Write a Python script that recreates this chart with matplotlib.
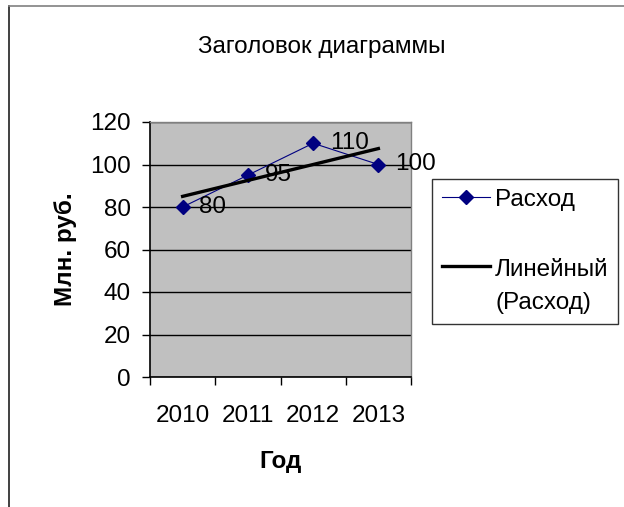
import numpy as np
import matplotlib
matplotlib.use('Agg')
import matplotlib.pyplot as plt
from matplotlib.lines import Line2D
from matplotlib.legend_handler import HandlerLine2D

years = ['2010', '2011', '2012', '2013']
expense = [80, 95, 110, 100]
yticks = [0, 20, 40, 60, 80, 100, 120]

plt.rcParams['font.family'] = ['Liberation Sans', 'DejaVu Sans']
FS = 17.5

W, H = 624, 507
fig = plt.figure(figsize=(W / 100, H / 100), dpi=100)
fig.patch.set_facecolor('white')

# outer chart frame (only left and top visible)
fig.add_artist(Line2D([9 / W, 9 / W], [0, 1 - 6 / H], color='#202020', lw=1.2))
fig.add_artist(Line2D([9 / W, 1], [1 - 6 / H, 1 - 6 / H], color='#808080', lw=1.2))

ax = fig.add_axes([150 / W, 1 - 377 / H, (411 - 150) / W, (377 - 122) / H])
ax.set_facecolor('#C0C0C0')

x = np.arange(len(years))
ax.plot(x, expense, color='#000080', lw=0.8, marker='D', markersize=7,
        label='Расход', zorder=3)

# linear trend
k, b = np.polyfit(x, expense, 1)
trend, = ax.plot(x, k * x + b, color='black', lw=2.4, label='Линейный\n(Расход)', zorder=4)

for xi, yi in zip(x, expense):
    ax.annotate(str(yi), (xi, yi), xytext=(12, 0), textcoords='offset points',
                va='center', ha='left', fontsize=FS, zorder=5)

ax.set_xlim(-0.5, len(years) - 0.5)
ax.set_ylim(0, 120)
ax.set_yticks(yticks)
ax.yaxis.grid(True, color='black', lw=1)
ax.set_axisbelow(True)

ax.set_xticks(np.arange(-0.5, len(years), 1))
ax.set_xticklabels([])
ax.set_xticks(x, minor=True)
ax.set_xticklabels(years, minor=True)
ax.tick_params(axis='x', which='major', length=6, width=1, direction='out')
ax.tick_params(axis='x', which='minor', length=0, pad=20, labelsize=FS)
ax.tick_params(axis='y', length=6, width=1, direction='out', labelsize=FS, pad=8)

for s in ['left', 'bottom']:
    ax.spines[s].set_color('black')
    ax.spines[s].set_linewidth(1.2)
for s in ['top', 'right']:
    ax.spines[s].set_color('#808080')
    ax.spines[s].set_linewidth(1)

ax.set_xlabel('Год', fontsize=FS, fontweight='bold', labelpad=17)
ax.set_ylabel('Млн. руб.', fontsize=FS, fontweight='bold', labelpad=9)

fig.text(322 / W, 1 - 47 / H, 'Заголовок диаграммы', ha='center', va='center', fontsize=FS)


class TopLineHandler(HandlerLine2D):
    # put the handle next to the first line of a two-line label
    def create_artists(self, legend, orig_handle, xdescent, ydescent, width,
                       height, fontsize, trans):
        arts = super().create_artists(legend, orig_handle, xdescent, ydescent,
                                      width, height, fontsize, trans)
        for a in arts:
            a.set_ydata(np.asarray(a.get_ydata()) + 0.85 * fontsize)
        return arts


leg = fig.legend(loc='upper left', bbox_to_anchor=(432 / W, 1 - 179 / H),
                 fontsize=FS, frameon=True, fancybox=False, edgecolor='black',
                 handlelength=2.0, labelspacing=2.0, borderpad=0.4,
                 handletextpad=0.2, borderaxespad=0,
                 handler_map={trend: TopLineHandler()})
leg.get_frame().set_linewidth(1)
leg.get_texts()[1].set_linespacing(1.65)

fig.savefig('out.png', dpi=100)
